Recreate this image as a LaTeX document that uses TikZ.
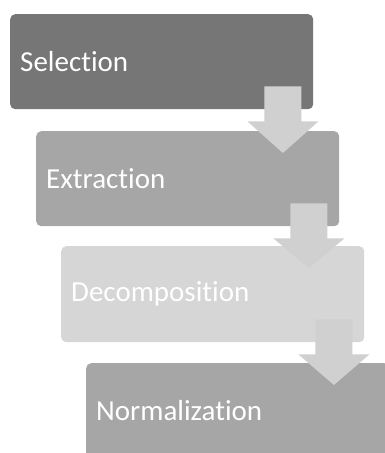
\documentclass[tikz,border=0pt]{standalone}
\usepackage{fontspec}
\setmainfont[Ligatures={NoCommon}]{Carlito}
\usetikzlibrary{calc}
\definecolor{stepdark}{HTML}{767676}
\definecolor{stepmid}{HTML}{A6A6A6}
\definecolor{steplight}{HTML}{D6D6D6}
\definecolor{arrowgray}{HTML}{D0D0D0}

\begin{document}
\begin{tikzpicture}[x=1pt,y=1pt]
    \tikzset{
      stepbox/.style={rounded corners=5pt,draw=none,anchor=north west,minimum width=303pt,
        minimum height=95pt,text width=283pt,inner xsep=10pt,align=left,
        text=white,font=\fontsize{29}{31}\selectfont},
      flow/.style={fill=arrowgray,draw=none}
    }
    \useasboundingbox (0,0) rectangle (385,-453);
    \clip (0,0) rectangle (385,-453);
    \node[stepbox,fill=stepdark] (sel) at (10,-14) {Selection};
    \node[stepbox,fill=stepmid] (ext) at (36,-131) {Extraction};
    \node[stepbox,fill=steplight,minimum height=96pt] (dec) at (61,-246) {Decomposition};
    \node[stepbox,fill=stepmid] (nor) at (86,-363) {Normalization};
    % block arrows between the steps
    \foreach \a/\b in {sel/ext,ext/dec,dec/nor} {
      \coordinate (top) at ($(\a.south east)+(-30.5,23)$);
      \coordinate (tip) at ($(top |- \b.north)+(0,-22)$);
      \fill[flow] ($(top)+(-18.5,0)$) -- ($(top)+(18.5,0)$) -- ($(top)+(18.5,-35)$)
        -- ($(top)+(35.5,-35)$) -- (tip) -- ($(top)+(-35.5,-35)$) -- ($(top)+(-18.5,-35)$) -- cycle;
    }
  \end{tikzpicture}
\end{document}
